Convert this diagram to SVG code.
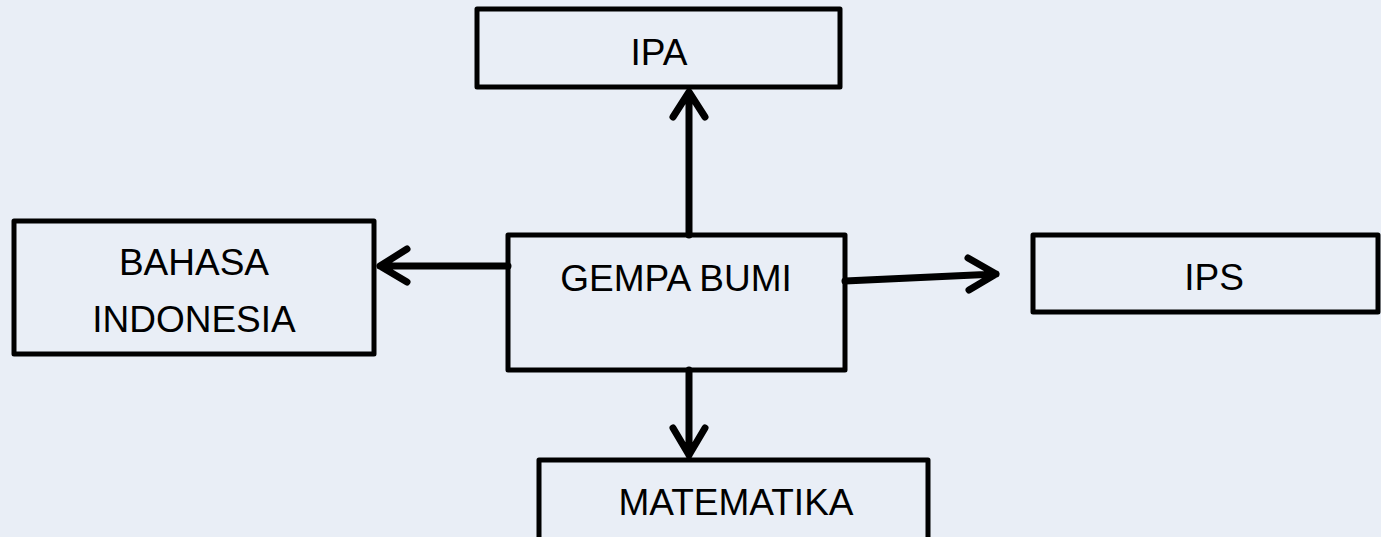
<svg xmlns="http://www.w3.org/2000/svg" width="1381" height="537" viewBox="0 0 1381 537">
<style>
.box{fill:none;stroke:#000;stroke-width:5;stroke-linejoin:round}
.lbl{font-family:"Liberation Sans",Arial,sans-serif;font-size:37px;fill:#000;text-anchor:middle}
.con{fill:none;stroke:#000;stroke-width:7;stroke-linecap:round;stroke-linejoin:round}
</style>
<rect x="0" y="0" width="1381" height="537" fill="#E9EEF6"/>
<g id="connectors">
<path class="con" d="M689 235 V92 M673 117 L689 92 L705 117"/>
<path class="con" d="M508 266 H380 M407 249 L380 266 L407 282"/>
<path class="con" d="M845 281 L996 274 M968 258 L996 274 L969 290"/>
<path class="con" d="M689 370 V455 M673 428 L689 455 L705 428"/>
</g>
<g id="ipa"><rect class="box" x="477" y="9" width="363" height="78"/><text class="lbl" x="659" y="65">IPA</text></g>
<g id="bahasa"><rect class="box" x="14" y="221" width="360" height="133"/><text class="lbl" x="194" y="275">BAHASA</text><text class="lbl" x="194" y="332">INDONESIA</text></g>
<g id="gempa"><rect class="box" x="508" y="235" width="337" height="135"/><text class="lbl" x="676" y="291">GEMPA BUMI</text></g>
<g id="ips"><rect class="box" x="1033" y="235" width="345" height="77"/><text class="lbl" x="1214" y="290">IPS</text></g>
<g id="matematika"><rect class="box" x="539" y="460" width="389" height="90"/><text class="lbl" x="736" y="515">MATEMATIKA</text></g>
</svg>
